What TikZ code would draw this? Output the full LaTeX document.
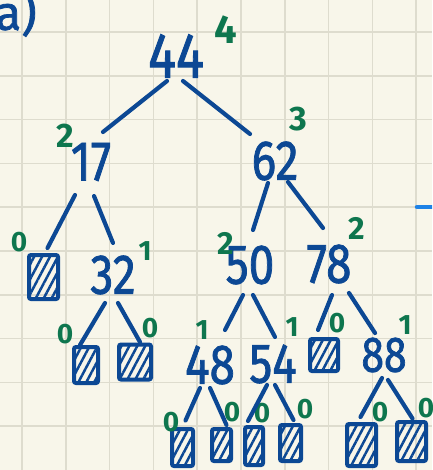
\documentclass[tikz,border=0pt]{standalone}
\usepackage{fontspec}
\setmainfont{Fira Sans}
\newfontfamily\keyfont{Fira Sans}[FakeBold=1.6]
\usepackage{graphicx}
\usepackage{tikz}
\usetikzlibrary{patterns.meta}
\definecolor{ink}{RGB}{12,72,148}
\definecolor{hgtgreen}{RGB}{14,118,78}
\definecolor{paper}{RGB}{248,246,234}
\definecolor{rule}{RGB}{222,220,206}
\definecolor{pen}{RGB}{30,130,230}
\newcommand{\narrow}[1]{\scalebox{0.82}[1]{#1}}

\begin{document}
\begin{tikzpicture}[x=1pt,y=-1pt,
  num/.style={text=ink,inner sep=0pt,font=\keyfont\fontsize{56}{56}\selectfont},
  hlab/.style={text=hgtgreen,inner sep=0pt,font=\bfseries\fontsize{28}{28}\selectfont},
  leaf/.style={draw=ink,line width=4pt,rounded corners=2pt,inner sep=0pt,
    pattern={Lines[angle=62,distance=7pt,line width=2.5pt]},pattern color=ink},
  branch/.style={draw=ink,line width=4.2pt,line cap=round},
  gridline/.style={draw=rule,line width=1.6pt}]
  \useasboundingbox (0,0) rectangle (432,470);
  \clip (0,0) rectangle (432,470);
  \fill[paper] (0,0) rectangle (432,470);
  % squared paper
  \foreach \i in {0,...,9} {
    \draw[gridline] (22+43.8*\i,0) -- (22+43.8*\i,470);
    \draw[gridline] (0,32+43.8*\i) -- (432,32+43.8*\i);
  }
  \node[text=ink,inner sep=0pt,anchor=east,font=\keyfont\fontsize{48}{48}\selectfont] (part) at (37,13) {a)};
  \draw[pen,line width=4.5pt,line cap=round] (417,207) -- (436,207);

  % keys
  \node[num,font=\keyfont\fontsize{64}{64}\selectfont] (n44) at (176,56) {\narrow{44}};
  \node[num] (n17) at (91,162) {\narrow{17}};
  \node[num] (n62) at (275,161) {\narrow{62}};
  \node[num] (n32) at (113,275) {\narrow{32}};
  \node[num] (n50) at (250,265) {\narrow{50}};
  \node[num] (n78) at (329,264) {\narrow{78}};
  \node[num] (n48) at (210,365) {\narrow{48}};
  \node[num] (n54) at (273,364) {\narrow{54}};
  \node[num,font=\keyfont\fontsize{50}{50}\selectfont] (n88) at (384,355) {\narrow{88}};

  % empty leaves
  \node[leaf,minimum width=29pt,minimum height=44pt] (l1) at (43.5,277) {};
  \node[leaf,minimum width=24pt,minimum height=36pt] (l2) at (86,365) {};
  \node[leaf,minimum width=32pt,minimum height=35pt] (l3) at (135,362) {};
  \node[leaf,minimum width=28pt,minimum height=32pt] (l4) at (324,355) {};
  \node[leaf,minimum width=21pt,minimum height=37pt] (l5) at (182.5,447.5) {};
  \node[leaf,minimum width=19pt,minimum height=32pt] (l6) at (221.5,445) {};
  \node[leaf,minimum width=18pt,minimum height=38pt] (l7) at (254,446) {};
  \node[leaf,minimum width=21pt,minimum height=36pt] (l8) at (290.5,443) {};
  \node[leaf,minimum width=29pt,minimum height=42pt] (l9) at (361.5,445) {};
  \node[leaf,minimum width=29pt,minimum height=39pt] (l10) at (411.5,441.5) {};

  % heights
  \node[hlab,font=\bfseries\fontsize{40}{40}\selectfont] (h44) at (226,30) {4};
  \node[hlab,font=\bfseries\fontsize{34}{34}\selectfont] (h17) at (65,136) {2};
  \node[hlab,font=\bfseries\fontsize{34}{34}\selectfont] (h62) at (298,119) {3};
  \node[hlab] (hl1) at (19,242) {0};
  \node[hlab] (h32) at (145,251) {1};
  \node[hlab,font=\bfseries\fontsize{32}{32}\selectfont] (h50) at (226,243) {2};
  \node[hlab,font=\bfseries\fontsize{32}{32}\selectfont] (h78) at (357,228) {2};
  \node[hlab] (hl2) at (65,334) {0};
  \node[hlab] (hl3) at (150,328) {0};
  \node[hlab] (h48) at (202,330) {1};
  \node[hlab] (h54) at (292,327) {1};
  \node[hlab] (hl4) at (337,323) {0};
  \node[hlab] (h88) at (405,325) {1};
  \node[hlab] (hl5) at (171,422) {0};
  \node[hlab] (hl6) at (232,412) {0};
  \node[hlab] (hl7) at (262,413) {0};
  \node[hlab] (hl8) at (305,409) {0};
  \node[hlab] (hl9) at (380,412) {0};
  \node[hlab] (hl10) at (426,408) {0};

  % branches
  \draw[branch] ([shift={(-9,25)}]n44.center) -- ([shift={(12,-30)}]n17.center);
  \draw[branch] ([shift={(7,25)}]n44.center) -- ([shift={(-25,-27)}]n62.center);
  \draw[branch] ([shift={(-16,33)}]n17.center) -- ([shift={(4,-29)}]l1.center);
  \draw[branch] ([shift={(3,34)}]n17.center) -- ([shift={(0,-32)}]n32.center);
  \draw[branch] ([shift={(-7,22)}]n62.center) -- ([shift={(3,-35)}]n50.center);
  \draw[branch] ([shift={(13,21)}]n62.center) -- ([shift={(-6,-36)}]n78.center);
  \draw[branch] ([shift={(-8,28)}]n32.center) -- ([shift={(-6,-20)}]l2.center);
  \draw[branch] ([shift={(5,28)}]n32.center) -- ([shift={(5,-20)}]l3.center);
  \draw[branch] ([shift={(-7,30)}]n50.center) -- ([shift={(15,-35)}]n48.center);
  \draw[branch] ([shift={(3,30)}]n50.center) -- ([shift={(2,-27)}]n54.center);
  \draw[branch] ([shift={(3,31)}]n78.center) -- ([shift={(-6,-25)}]l4.center);
  \draw[branch] ([shift={(20,29)}]n78.center) -- ([shift={(-9,-22)}]n88.center);
  \draw[branch] ([shift={(-10,23)}]n48.center) -- ([shift={(3,-27)}]l5.center);
  \draw[branch] ([shift={(0,23)}]n48.center) -- ([shift={(5,-20)}]l6.center);
  \draw[branch] ([shift={(-6,21)}]n54.center) -- ([shift={(-6,-25)}]l7.center);
  \draw[branch] ([shift={(2,21)}]n54.center) -- ([shift={(3,-23)}]l8.center);
  \draw[branch] ([shift={(-2,23)}]n88.center) -- ([shift={(-1,-28)}]l9.center);
  \draw[branch] ([shift={(4,25)}]n88.center) -- ([shift={(1,-23)}]l10.center);
\end{tikzpicture}
\end{document}
